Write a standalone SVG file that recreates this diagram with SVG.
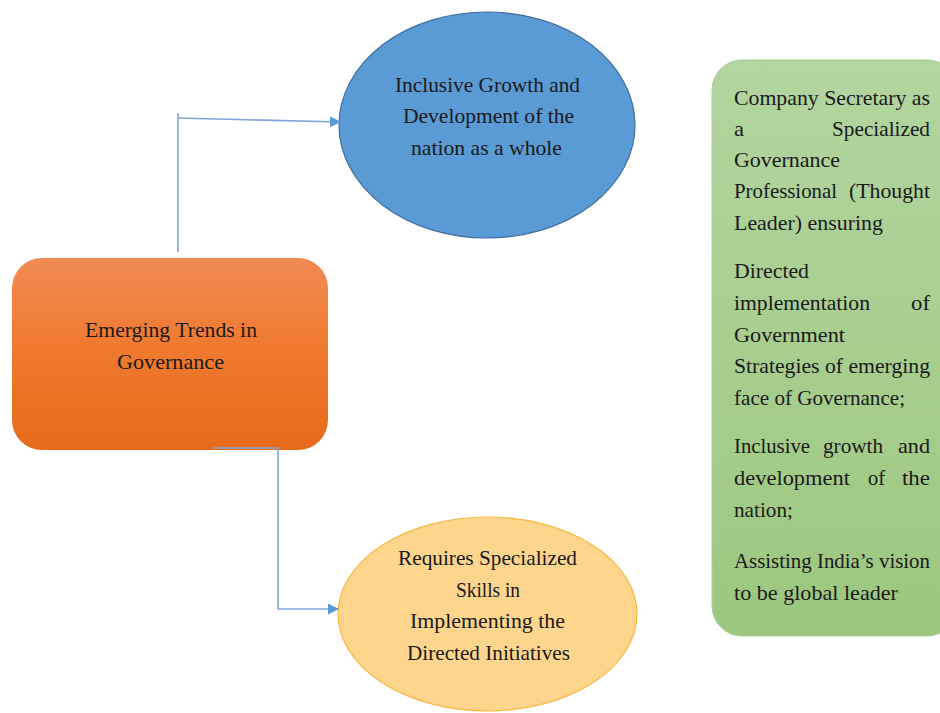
<svg xmlns="http://www.w3.org/2000/svg" width="940" height="713" viewBox="0 0 940 713">
<style>
text{font-family:"Liberation Serif","Times New Roman",serif;font-size:22px;fill:#1a1a1a}
.c{text-anchor:middle}
.e{text-anchor:end}
.ln{fill:none;stroke:#7EA6DC;stroke-width:1.6}
</style>
<defs>
<linearGradient id="og" x1="0" y1="0" x2="0" y2="1">
<stop offset="0" stop-color="#F08B55"/>
<stop offset="0.45" stop-color="#F07A30"/>
<stop offset="1" stop-color="#E66A18"/>
</linearGradient>
<linearGradient id="gg" x1="0" y1="0" x2="0" y2="1">
<stop offset="0" stop-color="#B3D5A0"/>
<stop offset="1" stop-color="#9CC77F"/>
</linearGradient>
<marker id="ah" markerWidth="11" markerHeight="11" refX="10" refY="5.5" orient="auto" markerUnits="userSpaceOnUse">
<path d="M0,0 L11,5.5 L0,11 Z" fill="#5B9BD5"/>
</marker>
</defs>
<g id="trends">
<rect x="12" y="258" width="316" height="192" rx="30" fill="url(#og)"/>
<text class="c" x="171" y="337" textLength="172" lengthAdjust="spacingAndGlyphs">Emerging Trends in</text>
<text class="c" x="170.5" y="369" textLength="107" lengthAdjust="spacingAndGlyphs">Governance</text>
</g>
<g id="inclusive">
<ellipse cx="487" cy="125" rx="148" ry="113" fill="#5B9BD5" stroke="#3E6E9E" stroke-width="1.2"/>
<text class="c" x="487.5" y="92" textLength="185" lengthAdjust="spacingAndGlyphs">Inclusive Growth and</text>
<text class="c" x="488.5" y="123" textLength="171" lengthAdjust="spacingAndGlyphs">Development of the</text>
<text class="c" x="486.5" y="155" textLength="151" lengthAdjust="spacingAndGlyphs">nation as a whole</text>
</g>
<g id="skills">
<ellipse cx="487.5" cy="614" rx="149.5" ry="97" fill="#FED58D" stroke="#F7B940" stroke-width="1.2"/>
<text class="c" x="487.5" y="565" textLength="179" lengthAdjust="spacingAndGlyphs">Requires Specialized</text>
<text class="c" x="488" y="597" textLength="64" lengthAdjust="spacingAndGlyphs">Skills in</text>
<text class="c" x="487.5" y="628" textLength="155" lengthAdjust="spacingAndGlyphs">Implementing the</text>
<text class="c" x="488.5" y="660" textLength="163" lengthAdjust="spacingAndGlyphs">Directed Initiatives</text>
</g>
<g id="secretary">
<rect x="712" y="60" width="245" height="576" rx="30" fill="url(#gg)" stroke="#A9CF93" stroke-width="1"/>
<text x="734" y="105" textLength="196" lengthAdjust="spacingAndGlyphs">Company Secretary as</text>
<text x="734" y="136" textLength="10" lengthAdjust="spacingAndGlyphs">a</text>
<text class="e" x="930" y="136" textLength="98" lengthAdjust="spacingAndGlyphs">Specialized</text>
<text x="734" y="167" textLength="106" lengthAdjust="spacingAndGlyphs">Governance</text>
<text x="734" y="198" textLength="103" lengthAdjust="spacingAndGlyphs">Professional</text>
<text class="e" x="930" y="198" textLength="81" lengthAdjust="spacingAndGlyphs">(Thought</text>
<text x="734" y="230" textLength="149" lengthAdjust="spacingAndGlyphs">Leader) ensuring</text>
<text x="734" y="278" textLength="75" lengthAdjust="spacingAndGlyphs">Directed</text>
<text x="734" y="310" textLength="136" lengthAdjust="spacingAndGlyphs">implementation</text>
<text class="e" x="930" y="310" textLength="19" lengthAdjust="spacingAndGlyphs">of</text>
<text x="734" y="342" textLength="111" lengthAdjust="spacingAndGlyphs">Government</text>
<text x="734" y="373" textLength="196" lengthAdjust="spacingAndGlyphs">Strategies of emerging</text>
<text x="734" y="405" textLength="171" lengthAdjust="spacingAndGlyphs">face of Governance;</text>
<text x="734" y="453" textLength="76" lengthAdjust="spacingAndGlyphs">Inclusive</text>
<text x="823" y="453" textLength="60" lengthAdjust="spacingAndGlyphs">growth</text>
<text class="e" x="930" y="453" textLength="32" lengthAdjust="spacingAndGlyphs">and</text>
<text x="734" y="485" textLength="116" lengthAdjust="spacingAndGlyphs">development</text>
<text x="868" y="485" textLength="17" lengthAdjust="spacingAndGlyphs">of</text>
<text class="e" x="930" y="485" textLength="28" lengthAdjust="spacingAndGlyphs">the</text>
<text x="734" y="517" textLength="59" lengthAdjust="spacingAndGlyphs">nation;</text>
<text x="734" y="568" textLength="196" lengthAdjust="spacingAndGlyphs">Assisting India’s vision</text>
<text x="734" y="600" textLength="164" lengthAdjust="spacingAndGlyphs">to be global leader</text>
</g>
<g id="connectors">
<path class="ln" d="M178,252 V113"/>
<path class="ln" d="M178,118 L340,122" marker-end="url(#ah)"/>
<path class="ln" d="M213,448 H278 V609 H338" marker-end="url(#ah)"/>
</g>
</svg>
